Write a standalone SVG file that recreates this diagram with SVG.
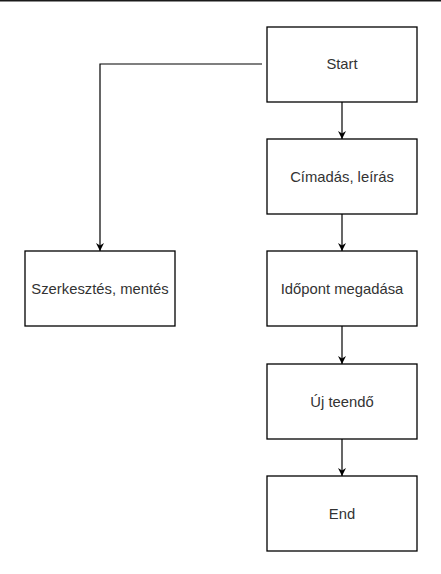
<svg xmlns="http://www.w3.org/2000/svg" width="441" height="574" viewBox="0 0 441 574">
<defs>
<marker id="arr" viewBox="0 0 10 10" refX="10" refY="5" markerWidth="8" markerHeight="8" markerUnits="userSpaceOnUse" orient="auto">
<path d="M0,0 L10,5 L0,10 L3,5 Z" fill="#000"/>
</marker>
</defs>
<style>
.box{fill:#fff;stroke:#000;stroke-width:1.3}
.lbl{font-family:"Liberation Sans",Arial,sans-serif;font-size:14.8px;fill:#333;text-anchor:middle;dominant-baseline:central}
.edge{fill:none;stroke:#000;stroke-width:1.2;marker-end:url(#arr)}
</style>
<rect width="441" height="574" fill="#fff"/>
<line x1="0" y1="0.5" x2="441" y2="0.5" stroke="#1a1a1a" stroke-width="2"/>
<g id="connectors">
<path class="edge" d="M262,64 H100 V251"/>
<path class="edge" d="M342,102 V139"/>
<path class="edge" d="M342,214 V251"/>
<path class="edge" d="M342,326 V364"/>
<path class="edge" d="M342,439 V476"/>
</g>
<g id="start"><rect class="box" x="267" y="27" width="150" height="75"/><text class="lbl" x="342" y="64">Start</text></g>
<g id="cimadas"><rect class="box" x="267" y="139" width="150" height="75"/><text class="lbl" x="342" y="176.5">Címadás, leírás</text></g>
<g id="idopont"><rect class="box" x="267" y="251" width="150" height="75"/><text class="lbl" x="342" y="288.5">Időpont megadása</text></g>
<g id="uj"><rect class="box" x="267" y="364" width="150" height="75"/><text class="lbl" x="342" y="401.5">Új teendő</text></g>
<g id="end"><rect class="box" x="267" y="476" width="150" height="75"/><text class="lbl" x="342" y="513.5">End</text></g>
<g id="szerkesztes"><rect class="box" x="25" y="251" width="150" height="75"/><text class="lbl" x="100" y="288.5">Szerkesztés, mentés</text></g>
</svg>
